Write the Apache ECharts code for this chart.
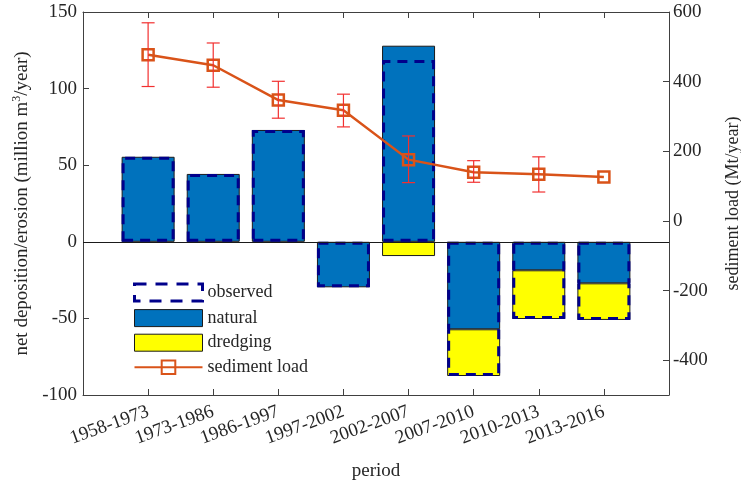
<!DOCTYPE html>
<html>
<head>
<meta charset="utf-8">
<script src="https://cdn.jsdelivr.net/npm/echarts@6/dist/echarts.min.js"></script>
<style>html,body{margin:0;padding:0;background:#fff;}#c{width:741px;height:483px;}</style>
</head>
<body>
<div id="c"></div>
<script>
const categories = ['1958-1973','1973-1986','1986-1997','1997-2002','2002-2007','2007-2010','2010-2013','2013-2016'];
const natural = [55.5, 44.3, 73, -29.7, 128, -57.1, -18.6, -27.1];
const dredging = [null, null, null, null, -9.3, -30.5, -31.8, -23.9];
const observed = [55.5, 44.3, 73, -29.7, 118.7, -87.6, -50.4, -51];
const sedimentLoad = [477, 447, 347, 318, 176, 140, 134, 126];
const errLow = [386, 384, 295, 270, 110, 111, 83, null];
const errHigh = [569, 511, 401, 364, 244, 173, 184, null];
const leftTicks = [-100, -50, 0, 50, 100, 150];
const rightTicks = [-400, -200, 0, 200, 400, 600];

const pad = a => [null, ...a, null];
const axisCats = ['', ...categories, ''];
const FONT = '"Liberation Serif", "Times New Roman", serif';
const TXT = '#262626';
const AX = '#404040';
const BLUE = '#0072BD', YEL = '#FFFF00', NAVY = '#00008B', ORANGE = '#D95319';

const errData = [];
categories.forEach((c, i) => {
  if (errLow[i] != null) errData.push([i + 1, errLow[i], errHigh[i]]);
});

const chart = echarts.init(document.getElementById('c'), null, {renderer: 'canvas'});
chart.setOption({
  animation: false,
  textStyle: {fontFamily: FONT},
  grid: {left: 83, right: 72, top: 12, bottom: 88, containLabel: false, outerBoundsMode: 'none'},
  legend: {
    orient: 'vertical', left: 133, top: 282.5, padding: 0,
    itemWidth: 68, itemHeight: 17, itemGap: 6.6,
    textStyle: {fontFamily: FONT, fontSize: 18, color: TXT, lineHeight: 17},
    data: [
      {name: 'observed', icon: 'rect', itemStyle: {color: 'rgba(0,0,0,0)', borderColor: NAVY, borderWidth: 3, borderType: [12, 9]}},
      {name: 'natural', icon: 'rect', itemStyle: {color: BLUE, borderColor: '#1a1a1a', borderWidth: 1}},
      {name: 'dredging', icon: 'rect', itemStyle: {color: YEL, borderColor: '#1a1a1a', borderWidth: 1}},
      {name: 'sediment load'}
    ]
  },
  xAxis: [{
    type: 'category', data: axisCats, boundaryGap: false, position: 'bottom',
    name: 'period', nameLocation: 'middle', nameGap: 67,
    nameTextStyle: {fontFamily: FONT, fontSize: 19, color: TXT},
    axisLine: {show: true, onZero: false, lineStyle: {color: AX, width: 1}},
    axisTick: {show: true, inside: true, length: 6, interval: (i) => i > 0 && i < 9, lineStyle: {color: AX}},
    axisLabel: {interval: 0, rotate: 20, margin: 16, fontFamily: FONT, fontSize: 19, color: TXT},
    splitLine: {show: false}
  }, {
    type: 'category', data: axisCats, boundaryGap: false, position: 'top',
    axisLine: {show: true, onZero: false, lineStyle: {color: AX, width: 1}},
    axisTick: {show: true, inside: true, length: 6, interval: (i) => i > 0 && i < 9, lineStyle: {color: AX}},
    axisLabel: {show: false},
    splitLine: {show: false}
  }],
  yAxis: [{
    type: 'value', min: -100, max: 150, interval: 50, position: 'left',
    name: 'net deposition/erosion (million m{sup|3}/year)',
    nameLocation: 'middle', nameGap: 47, nameRotate: 90,
    nameTextStyle: {fontFamily: FONT, fontSize: 19, color: TXT,
      rich: {sup: {fontFamily: FONT, fontSize: 12, color: TXT, verticalAlign: 'top', padding: [0, 0, 10, 0]}}},
    axisLine: {show: true, onZero: false, lineStyle: {color: AX, width: 1}},
    axisTick: {show: true, inside: true, length: 6, lineStyle: {color: AX}},
    axisLabel: {fontFamily: FONT, fontSize: 19, color: TXT, margin: 6},
    splitLine: {show: false}
  }, {
    type: 'value', min: -500, max: 600, position: 'right',
    name: 'sediment load (Mt/year)',
    nameLocation: 'middle', nameGap: 55, nameRotate: 90,
    nameTextStyle: {fontFamily: FONT, fontSize: 18, color: TXT},
    axisLine: {show: true, onZero: false, lineStyle: {color: AX, width: 1}},
    axisTick: {show: true, inside: true, length: 6, customValues: rightTicks, lineStyle: {color: AX}},
    axisLabel: {fontFamily: FONT, fontSize: 19, color: TXT, margin: 4, customValues: rightTicks},
    splitLine: {show: false}
  }],
  series: [{
    name: 'natural', type: 'bar', stack: 'dep', barWidth: 53, barGap: '-100%',
    data: pad(natural),
    itemStyle: {color: BLUE, borderColor: '#1a1a1a', borderWidth: 1},
    markLine: {
      silent: true, symbol: 'none', label: {show: false},
      lineStyle: {color: '#1a1a1a', width: 1, type: 'solid'},
      data: [{yAxis: 0}]
    },
    z: 2
  }, {
    name: 'dredging', type: 'bar', stack: 'dep', barWidth: 53, barGap: '-100%',
    data: pad(dredging),
    itemStyle: {color: YEL, borderColor: '#1a1a1a', borderWidth: 1},
    z: 2
  }, {
    name: 'observed', type: 'bar', barWidth: 53, barGap: '-100%',
    data: pad(observed),
    itemStyle: {color: 'rgba(0,0,0,0)', borderColor: NAVY, borderWidth: 3, borderType: [10, 7]},
    z: 3
  }, {
    name: 'sediment load', type: 'line', yAxisIndex: 1,
    data: pad(sedimentLoad),
    symbol: 'rect', symbolSize: 11,
    lineStyle: {color: ORANGE, width: 2.5},
    itemStyle: {color: 'rgba(255,255,255,0)', borderColor: ORANGE, borderWidth: 2.5},
    z: 5
  }, {
    name: 'error', type: 'custom', yAxisIndex: 1,
    data: errData,
    renderItem: function (params, api) {
      const x = api.value(0);
      const lo = api.coord([x, api.value(1)]);
      const hi = api.coord([x, api.value(2)]);
      const w = 6.5;
      const st = {stroke: '#F23030', lineWidth: 1.2};
      return {type: 'group', children: [
        {type: 'line', shape: {x1: lo[0], y1: lo[1], x2: hi[0], y2: hi[1]}, style: st},
        {type: 'line', shape: {x1: lo[0] - w, y1: lo[1], x2: lo[0] + w, y2: lo[1]}, style: st},
        {type: 'line', shape: {x1: hi[0] - w, y1: hi[1], x2: hi[0] + w, y2: hi[1]}, style: st}
      ]};
    },
    z: 6
  }]
});
</script>
</body>
</html>
